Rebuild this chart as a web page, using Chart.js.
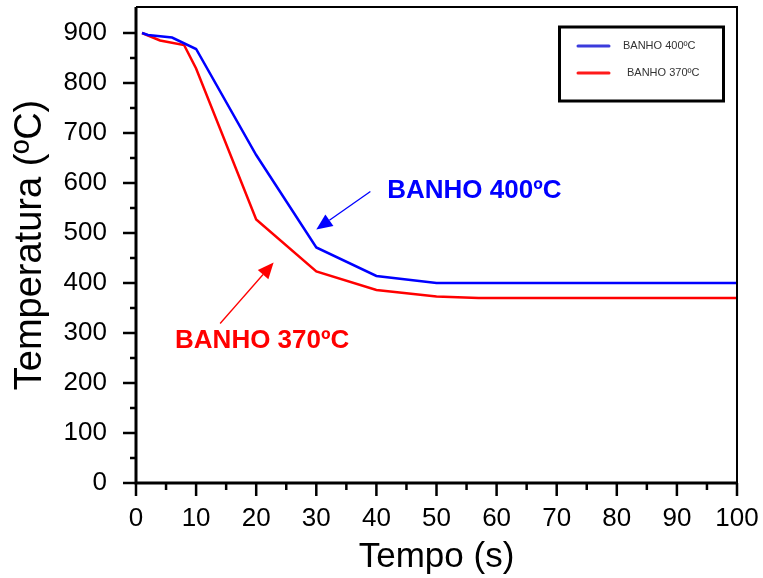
<!DOCTYPE html>
<html>
<head>
<meta charset="utf-8">
<script src="https://cdn.jsdelivr.net/npm/chart.js@4.4.0/dist/chart.umd.min.js"></script>
<style>
  html, body { margin: 0; padding: 0; background: #fff; }
  #wrap { width: 763px; height: 578px; }
</style>
</head>
<body>
<div id="wrap"><canvas id="chart" width="763" height="578"></canvas></div>
<script>
// Data
const time400 = [1, 2, 6, 10, 20, 30, 40, 50, 100];
const temp400 = [900, 896, 891, 868, 656, 471, 414, 400, 400];
const time370 = [1, 4, 8, 10, 20, 30, 40, 50, 57, 100];
const temp370 = [900, 885, 876, 829, 527, 423, 386, 373, 370, 370];

const xTicks = [0, 10, 20, 30, 40, 50, 60, 70, 80, 90, 100];
const yTicks = [0, 100, 200, 300, 400, 500, 600, 700, 800, 900];

const seriesNames = ["BANHO 400ºC", "BANHO 370ºC"];
const seriesColors = ["#0000ff", "#ff0000"];

// annotation text + arrows (data coords)
const labelPos = [[41.8, 570], [6.5, 270]];
const arrowTail = [[39, 583], [14, 319]];
const arrowTip = [[30, 507], [22.9, 441]];

const toPoints = (xs, ys) => xs.map((x, i) => ({ x: x, y: ys[i] }));

// frame, ticks, arrows, texts, legend box
const decor = {
  id: "decor",
  afterDraw(chart) {
    const c = chart.ctx;
    const xs = chart.scales.x;
    const ys = chart.scales.y;
    const a = chart.chartArea;
    c.save();
    c.strokeStyle = "#000";
    c.lineCap = "butt";

    // frame
    c.lineWidth = 2;
    c.beginPath();
    c.moveTo(a.left, a.top);
    c.lineTo(a.right, a.top);
    c.lineTo(a.right, a.bottom);
    c.stroke();
    c.lineWidth = 3;
    c.beginPath();
    c.moveTo(a.left, a.top);
    c.lineTo(a.left, a.bottom + 1.5);
    c.moveTo(a.left - 1.5, a.bottom);
    c.lineTo(a.right + 1, a.bottom);
    c.stroke();

    // y ticks: major each 100, minor each 50
    c.lineWidth = 2.5;
    c.beginPath();
    for (let v = 0; v <= 900; v += 50) {
      const py = ys.getPixelForValue(v);
      const len = v % 100 === 0 ? 13 : 6;
      c.moveTo(a.left - len, py);
      c.lineTo(a.left, py);
    }
    // x ticks: major each 10, minor each 5
    for (let v = 0; v <= 100; v += 5) {
      const px = xs.getPixelForValue(v);
      const len = v % 10 === 0 ? 13 : 7;
      c.moveTo(px, a.bottom);
      c.lineTo(px, a.bottom + len);
    }
    c.stroke();

    // annotation arrows
    for (let i = 0; i < 2; i++) {
      const x1 = xs.getPixelForValue(arrowTail[i][0]);
      const y1 = ys.getPixelForValue(arrowTail[i][1]);
      const x2 = xs.getPixelForValue(arrowTip[i][0]);
      const y2 = ys.getPixelForValue(arrowTip[i][1]);
      const ang = Math.atan2(y2 - y1, x2 - x1);
      const hl = 16, hw = 7;
      const bx = x2 - hl * Math.cos(ang), by = y2 - hl * Math.sin(ang);
      c.strokeStyle = seriesColors[i];
      c.fillStyle = seriesColors[i];
      c.lineWidth = 1.3;
      c.beginPath();
      c.moveTo(x1, y1);
      c.lineTo(bx, by);
      c.stroke();
      c.beginPath();
      c.moveTo(x2, y2);
      c.lineTo(bx + hw * Math.sin(ang), by - hw * Math.cos(ang));
      c.lineTo(bx - hw * Math.sin(ang), by + hw * Math.cos(ang));
      c.closePath();
      c.fill();

      c.font = "bold 26px 'Liberation Sans', Arial, sans-serif";
      c.textAlign = "left";
      c.textBaseline = "alphabetic";
      c.fillText(seriesNames[i], xs.getPixelForValue(labelPos[i][0]), ys.getPixelForValue(labelPos[i][1]));
    }

    // legend box
    c.strokeStyle = "#000";
    c.lineWidth = 3;
    c.strokeRect(559.5, 27, 164, 74);
    const legY = [46, 73];
    const legTx = [623, 627];
    const legCol = ["#3b3bdc", "#ff1a1a"];
    c.font = "11px 'Liberation Sans', Arial, sans-serif";
    c.textBaseline = "middle";
    for (let i = 0; i < 2; i++) {
      c.strokeStyle = legCol[i];
      c.lineWidth = 3;
      c.lineCap = "round";
      c.beginPath();
      c.moveTo(578, legY[i]);
      c.lineTo(609, legY[i]);
      c.stroke();
      c.fillStyle = "#333";
      c.fillText(seriesNames[i], legTx[i], legY[i]);
    }
    c.restore();
  }
};

const ctx = document.getElementById("chart").getContext("2d");
new Chart(ctx, {
  type: "line",
  data: {
    datasets: [
      {
        label: seriesNames[0],
        data: toPoints(time400, temp400),
        borderColor: seriesColors[0],
        borderWidth: 2.5,
        pointRadius: 0,
        tension: 0,
      },
      {
        label: seriesNames[1],
        data: toPoints(time370, temp370),
        borderColor: seriesColors[1],
        borderWidth: 2.5,
        pointRadius: 0,
        tension: 0,
      },
    ],
  },
  options: {
    responsive: false,
    animation: false,
    layout: { padding: { top: 7, right: 26, left: 0, bottom: 0 } },
    plugins: { legend: { display: false }, tooltip: { enabled: false } },
    scales: {
      x: {
        type: "linear",
        min: 0,
        max: 100,
        border: { display: false },
        grid: { display: false },
        afterBuildTicks: (s) => { s.ticks = xTicks.map((v) => ({ value: v })); },
        afterFit: (s) => { s.height = 95; s.paddingRight = 0; s.paddingLeft = 0; },
        ticks: {
          padding: 12,
          maxRotation: 0,
          autoSkip: false,
          color: "#000",
          font: { family: "'Liberation Sans', Arial, sans-serif", size: 26 },
        },
        title: {
          display: true,
          text: "Tempo (s)",
          color: "#000",
          padding: { top: 12, bottom: 0 },
          font: { family: "'Liberation Sans', Arial, sans-serif", size: 35 },
        },
      },
      y: {
        type: "linear",
        min: 0,
        max: 952,
        border: { display: false },
        grid: { display: false },
        afterBuildTicks: (s) => { s.ticks = yTicks.map((v) => ({ value: v })); },
        afterFit: (s) => { s.width = 136; s.paddingTop = 0; s.paddingBottom = 0; },
        ticks: {
          padding: 21,
          autoSkip: false,
          color: "#000",
          font: { family: "'Liberation Sans', Arial, sans-serif", size: 26 },
        },
        title: {
          display: true,
          text: "Temperatura (ºC)",
          color: "#000",
          padding: { top: 8, bottom: 0 },
          font: { family: "'Liberation Sans', Arial, sans-serif", size: 38 },
        },
      },
    },
  },
  plugins: [decor],
});
</script>
</body>
</html>
